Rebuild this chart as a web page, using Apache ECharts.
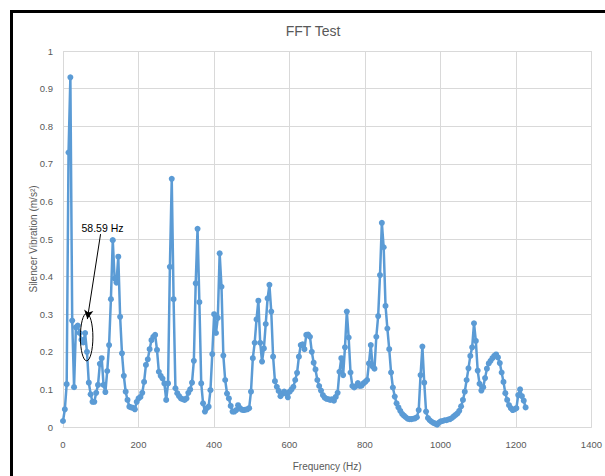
<!DOCTYPE html>
<html>
<head>
<meta charset="utf-8">
<script src="https://cdn.jsdelivr.net/npm/echarts@6/dist/echarts.min.js"></script>
<style>
html, body { margin: 0; padding: 0; background: #fff; overflow: hidden; width: 605px; height: 476px; }
#chart { position: absolute; left: 0; top: 0; width: 605px; height: 476px; }
#frame { position: absolute; left: 10px; top: 10px; right: -20px; bottom: -20px;
         border-left: 3px solid #000; border-top: 3px solid #000; pointer-events: none; }
</style>
</head>
<body>
<div id="chart"></div>
<div id="frame"></div>
<script>
// ---- chart texts ----
const chartTitle = 'FFT Test';
const xAxisTitle = 'Frequency (Hz)';
const yAxisTitle = 'Silencer Vibration (m/s²)';
const annotationText = '58.59 Hz';

// ---- axis ticks ----
const xTickValues = [0, 200, 400, 600, 800, 1000, 1200, 1400];
const yTickValues = [0, 0.1, 0.2, 0.3, 0.4, 0.5, 0.6, 0.7, 0.8, 0.9, 1];

// ---- FFT bin spacing (Hz per bin; 58.59 Hz = bin 12) ----
const binWidthHz = 4.8828125;

// ---- vibration amplitude per FFT bin (m/s^2) ----
const vibration = [
  0.016, 0.047, 0.114, 0.73, 0.93, 0.283, 0.106, 0.265, 0.27, 0.25,
  0.232, 0.225, 0.25, 0.2, 0.118, 0.087, 0.067, 0.067, 0.091, 0.112,
  0.168, 0.183, 0.112, 0.093, 0.149, 0.218, 0.34, 0.497, 0.395, 0.384,
  0.453, 0.293, 0.196, 0.136, 0.094, 0.072, 0.054, 0.052, 0.051, 0.047,
  0.067, 0.076, 0.08, 0.091, 0.12, 0.165, 0.18, 0.207, 0.231, 0.24,
  0.245, 0.205, 0.147, 0.136, 0.129, 0.116, 0.072, 0.116, 0.426, 0.66,
  0.34, 0.103, 0.09, 0.082, 0.076, 0.074, 0.072, 0.076, 0.091, 0.1,
  0.118, 0.176, 0.382, 0.527, 0.332, 0.116, 0.063, 0.041, 0.05, 0.054,
  0.098, 0.194, 0.3, 0.25, 0.29, 0.462, 0.373, 0.19, 0.125, 0.089,
  0.076, 0.056, 0.041, 0.041, 0.045, 0.058, 0.05, 0.046, 0.045, 0.046,
  0.047, 0.05, 0.094, 0.183, 0.224, 0.286, 0.336, 0.224, 0.174, 0.209,
  0.274, 0.342, 0.378, 0.307, 0.187, 0.122, 0.107, 0.096, 0.082, 0.089,
  0.094, 0.089, 0.079, 0.094, 0.1, 0.107, 0.125, 0.144, 0.187, 0.218,
  0.22, 0.207, 0.245, 0.246, 0.24, 0.2, 0.171, 0.153, 0.125, 0.109,
  0.097, 0.085, 0.078, 0.075, 0.074, 0.072, 0.074, 0.07, 0.08, 0.091,
  0.147, 0.183, 0.138, 0.212, 0.307, 0.238, 0.145, 0.109, 0.105, 0.109,
  0.117, 0.109, 0.11, 0.116, 0.12, 0.125, 0.169, 0.218, 0.161, 0.155,
  0.24, 0.295, 0.404, 0.543, 0.478, 0.322, 0.262, 0.207, 0.145, 0.105,
  0.081, 0.063, 0.052, 0.043, 0.035, 0.03, 0.026, 0.022, 0.021, 0.021,
  0.022, 0.023, 0.026, 0.045, 0.138, 0.214, 0.118, 0.041, 0.024, 0.018,
  0.014, 0.011, 0.009, 0.006, 0.012, 0.015, 0.016, 0.018, 0.018, 0.02,
  0.021, 0.024, 0.028, 0.032, 0.036, 0.043, 0.055, 0.072, 0.094, 0.125,
  0.156, 0.189, 0.212, 0.276, 0.229, 0.15, 0.115, 0.097, 0.106, 0.13,
  0.155, 0.169, 0.176, 0.183, 0.189, 0.193, 0.185, 0.17, 0.145, 0.12,
  0.09, 0.072, 0.058, 0.05, 0.045, 0.047, 0.05, 0.085, 0.1, 0.082,
  0.07, 0.052
];

// ---- annotation anchors (data coordinates) ----
const arrowFrom = [99.5, 0.513];
const arrowTo = [64.5, 0.287];
const ellipseCenter = [62.6, 0.239];
const ellipseRadius = [16.6, 0.063];
const labelAnchor = [49, 0.528];

const FONT = "'Liberation Sans', Arial, sans-serif";
const GREY = '#595959';
const GRID = '#d9d9d9';
const BLUE = '#5b9bd5';

const seriesData = vibration.map((v, i) => [i * binWidthHz, v]);

const chart = echarts.init(document.getElementById('chart'), null, { renderer: 'svg' });
chart.setOption({
  animation: false,
  backgroundColor: '#fff',
  textStyle: { fontFamily: FONT },
  title: {
    text: chartTitle,
    left: 313, top: 24, textAlign: 'center', padding: 0,
    textStyle: { fontFamily: FONT, fontSize: 14, fontWeight: 'normal', color: GREY }
  },
  grid: { left: 63, right: 10, top: 51, bottom: 49, containLabel: false },
  xAxis: {
    type: 'value',
    min: xTickValues[0], max: xTickValues[xTickValues.length - 1],
    interval: xTickValues[1] - xTickValues[0],
    name: xAxisTitle, nameLocation: 'middle', nameGap: 34, nameMoveOverlap: false,
    nameTextStyle: { fontFamily: FONT, fontSize: 10, color: GREY },
    axisLine: { show: true, lineStyle: { color: GRID, width: 1 } },
    axisTick: { show: false },
    axisLabel: { color: GREY, fontFamily: FONT, fontSize: 9.5, margin: 12,
                 formatter: v => String(v) },
    splitLine: { show: true, lineStyle: { color: GRID, width: 1 } }
  },
  yAxis: {
    type: 'value',
    min: yTickValues[0], max: yTickValues[yTickValues.length - 1],
    interval: 0.1,
    name: yAxisTitle, nameLocation: 'middle', nameGap: 25, nameMoveOverlap: false,
    nameTextStyle: { fontFamily: FONT, fontSize: 10, color: GREY },
    axisLine: { show: false },
    axisTick: { show: false },
    axisLabel: { color: GREY, fontFamily: FONT, fontSize: 9.5, margin: 10,
                 formatter: v => String(Math.round(v * 10) / 10) },
    splitLine: { show: true, lineStyle: { color: GRID, width: 1 } }
  },
  series: [{
    type: 'line',
    data: seriesData,
    showSymbol: true,
    showAllSymbol: true,
    symbol: 'circle',
    symbolSize: 6,
    itemStyle: { color: BLUE },
    lineStyle: { color: BLUE, width: 2.5 },
    z: 2,
    markLine: {
      silent: true,
      animation: false,
      symbolSize: [7, 9],
      label: { show: false },
      lineStyle: { color: '#000', width: 1, type: 'solid' },
      data: [[
        { coord: arrowFrom, symbol: 'none' },
        { coord: arrowTo, symbol: 'arrow' }
      ]]
    }
  }]
});

const c = chart.convertToPixel({ gridIndex: 0 }, ellipseCenter);
const e = chart.convertToPixel({ gridIndex: 0 },
  [ellipseCenter[0] + ellipseRadius[0], ellipseCenter[1] + ellipseRadius[1]]);
const t = chart.convertToPixel({ gridIndex: 0 }, labelAnchor);
chart.setOption({
  graphic: [
    { type: 'ellipse', z: 100, silent: true,
      shape: { cx: c[0], cy: c[1], rx: Math.abs(e[0] - c[0]), ry: Math.abs(c[1] - e[1]) },
      style: { fill: 'none', stroke: '#000', lineWidth: 1 } },
    { type: 'text', z: 100, silent: true, x: t[0], y: t[1],
      style: { text: annotationText, fill: '#000', font: "10.5px " + FONT,
               align: 'left', verticalAlign: 'middle' } }
  ]
});
</script>
</body>
</html>
